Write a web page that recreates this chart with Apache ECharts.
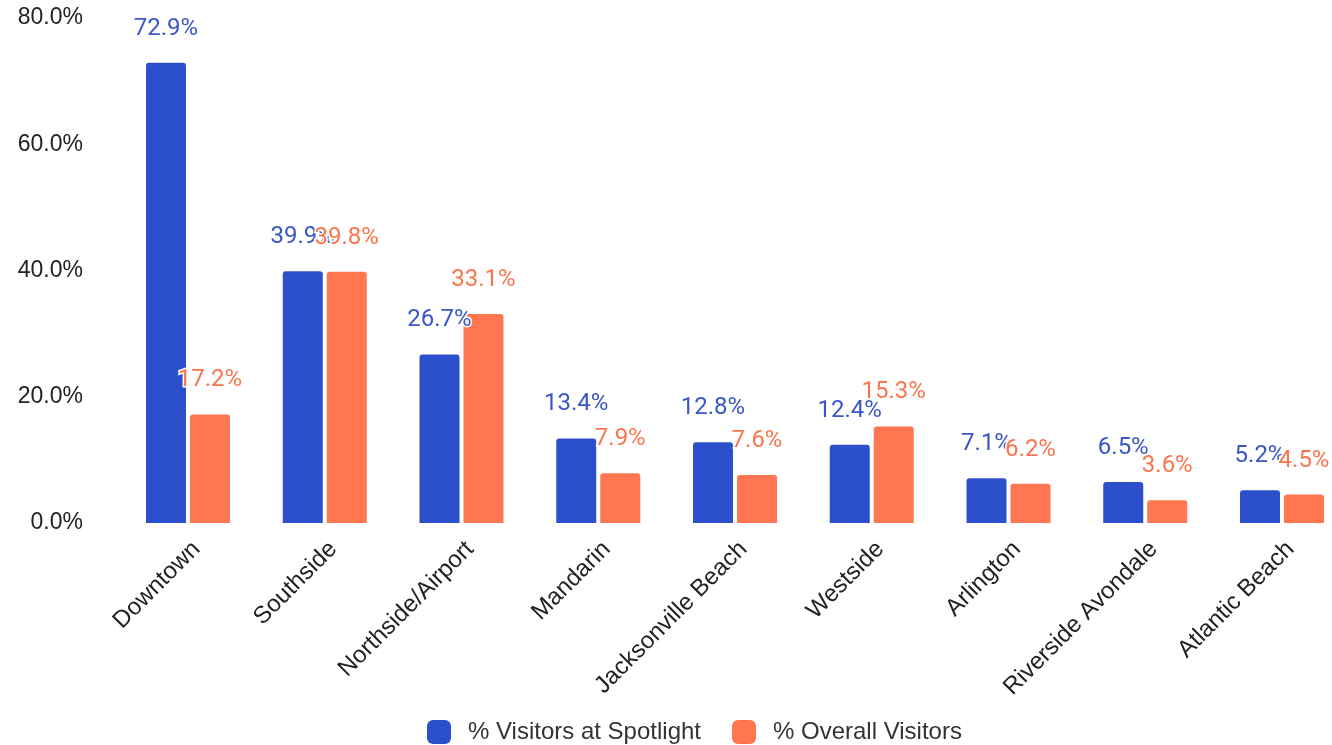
<!DOCTYPE html>
<html>
<head>
<meta charset="utf-8">
<script src="https://cdn.jsdelivr.net/npm/echarts@6/dist/echarts.min.js"></script>
<style>
  html, body { margin: 0; padding: 0; background: #fff; }
  #chart { width: 1332px; height: 745px; }
</style>
</head>
<body>
<div id="chart"></div>
<script>
// neighbourhoods and the two shares (percent)
var categories = ["Downtown", "Southside", "Northside/Airport", "Mandarin", "Jacksonville Beach",
  "Westside", "Arlington", "Riverside Avondale", "Atlantic Beach"];
var spotlight = [72.9, 39.9, 26.7, 13.4, 12.8, 12.4, 7.1, 6.5, 5.2];
var overall = [17.2, 39.8, 33.1, 7.9, 7.6, 15.3, 6.2, 3.6, 4.5];
var seriesNames = ["% Visitors at Spotlight", "% Overall Visitors"];

var chart = echarts.init(document.getElementById("chart"), null, { renderer: "canvas" });

function barLabel(color) {
  return {
    show: true,
    position: "top",
    distance: 22,
    fontFamily: "Roboto",
    fontSize: 24,
    color: color,
    textBorderColor: "#fff",
    textBorderWidth: 3,
    formatter: function (p) { return p.value.toFixed(1) + "%"; }
  };
}

// category centres sit on the grid edges (boundaryGap off) so the outer bars
// can hang past them, like in the original
chart.setOption({
  animation: false,
  color: ["#2c50cb", "#ff7650"],
  grid: { left: 188, right: 50, top: 18, bottom: 222 },
  legend: {
    bottom: -4,
    left: 422,
    itemWidth: 24,
    itemHeight: 24,
    itemGap: 31,
    icon: "roundRect",
    textStyle: { fontFamily: "Liberation Sans", fontSize: 24, color: "#333", padding: [0, 0, 0, 12] },
    data: seriesNames
  },
  xAxis: {
    type: "category",
    data: categories,
    boundaryGap: false,
    axisLine: { show: false },
    axisTick: { show: false },
    splitLine: { show: false },
    axisLabel: {
      rotate: 45,
      margin: 14,
      interval: 0,
      verticalAlign: "top",
      fontFamily: "Liberation Sans",
      fontSize: 24,
      color: "#222"
    }
  },
  yAxis: {
    type: "value",
    min: 0,
    max: 80,
    interval: 20,
    splitLine: { show: false },
    axisLine: { show: false },
    axisTick: { show: false },
    axisLabel: {
      margin: 105,
      fontFamily: "Liberation Sans",
      fontSize: 23,
      color: "#222",
      formatter: function (v) { return v.toFixed(1) + "%"; }
    }
  },
  series: [
    {
      name: seriesNames[0],
      type: "bar",
      data: spotlight,
      barWidth: 40,
      barGap: "10%",
      clip: false,
      itemStyle: { borderRadius: [3, 3, 0, 0] },
      label: barLabel("#3a57c8")
    },
    {
      name: seriesNames[1],
      type: "bar",
      data: overall,
      barWidth: 40,
      clip: false,
      itemStyle: { borderRadius: [3, 3, 0, 0] },
      label: barLabel("#f9754d")
    }
  ]
});
</script>
</body>
</html>
